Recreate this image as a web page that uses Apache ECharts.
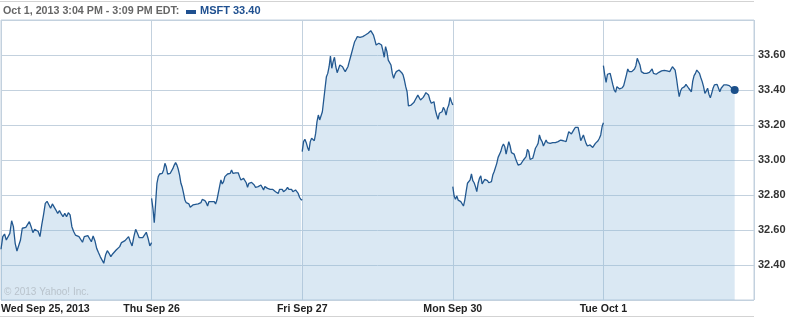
<!DOCTYPE html>
<html>
<head>
<meta charset="utf-8">
<script src="https://cdn.jsdelivr.net/npm/echarts@6/dist/echarts.min.js"></script>
<style>
html,body{margin:0;padding:0;background:#fff;}
#chart{width:791px;height:318px;}
</style>
</head>
<body>
<div id="chart"></div>
<script>
// ---- data (MSFT intraday, ~5-minute samples) ----
const dayLabels = ['Wed Sep 25, 2013', 'Thu Sep 26', 'Fri Sep 27', 'Mon Sep 30', 'Tue Oct 1'];
const yTicks = [32.40, 32.60, 32.80, 33.00, 33.20, 33.40, 33.60];
const ticker = 'MSFT';
const headerText = 'Oct 1, 2013 3:04 PM - 3:09 PM EDT:';
const minutesPerDay = 390;
const lastDayMinutes = 340;

const sep25 = [32.49,32.562,32.577,32.543,32.547,32.581,32.653,32.619,32.524,32.480,32.486,32.543,32.610,32.619,32.615,32.625,32.648,32.619,32.585,32.604,32.606,32.591,32.562,32.629,32.686,32.752,32.764,32.756,32.724,32.749,32.743,32.714,32.695,32.711,32.692,32.676,32.695,32.676,32.699,32.686,32.619,32.591,32.571,32.571,32.562,32.558,32.530,32.562,32.568,32.568,32.562,32.533,32.566,32.539,32.495,32.471,32.448,32.438,32.410,32.457,32.482,32.467,32.448,32.463,32.471,32.486,32.482,32.505,32.528,32.533,32.539,32.547,32.562,32.533,32.509,32.562,32.604,32.581,32.556,32.556,32.556,32.556,32.587,32.553,32.509,32.528];
const sep26 = [32.781,32.724,32.642,32.752,32.867,32.905,32.920,32.914,32.924,32.943,32.981,32.962,32.920,32.927,32.924,32.927,32.952,32.971,32.985,32.971,32.947,32.914,32.867,32.844,32.809,32.771,32.756,32.762,32.749,32.730,32.737,32.743,32.749,32.747,32.752,32.749,32.749,32.756,32.775,32.775,32.768,32.756,32.737,32.762,32.768,32.762,32.768,32.762,32.749,32.771,32.809,32.848,32.886,32.863,32.876,32.905,32.914,32.920,32.914,32.924,32.943,32.924,32.914,32.927,32.920,32.927,32.905,32.886,32.890,32.895,32.886,32.870,32.844,32.867,32.876,32.872,32.867,32.857,32.844,32.851,32.848,32.851,32.857,32.844,32.829,32.848,32.851,32.838,32.829,32.832,32.825,32.832,32.829,32.819,32.829,32.809,32.832,32.838,32.832,32.819,32.829,32.832,32.844,32.832,32.825,32.832,32.819,32.825,32.829,32.819,32.809,32.787,32.775,32.771];
const sep27 = [33.048,33.105,33.118,33.099,33.072,33.053,33.105,33.124,33.133,33.110,33.152,33.219,33.257,33.229,33.238,33.276,33.343,33.410,33.476,33.495,33.533,33.594,33.524,33.562,33.587,33.533,33.499,33.505,33.543,33.552,33.533,33.518,33.505,33.514,33.533,33.562,33.590,33.600,33.648,33.676,33.690,33.705,33.709,33.701,33.701,33.705,33.714,33.714,33.724,33.724,33.733,33.739,33.733,33.714,33.686,33.657,33.663,33.667,33.663,33.657,33.625,33.587,33.648,33.619,33.571,33.562,33.543,33.495,33.467,33.491,33.505,33.499,33.514,33.505,33.499,33.486,33.457,33.419,33.390,33.309,33.301,33.314,33.309,33.328,33.343,33.352,33.371,33.362,33.343,33.347,33.358,33.371,33.385,33.396,33.371,33.343,33.324,33.314,33.333,33.286,33.257,33.232,33.267,33.276,33.276,33.301,33.286,33.257,33.295,33.314,33.358,33.333,33.314];
const sep30 = [32.848,32.794,32.775,32.794,32.771,32.775,32.762,32.752,32.737,32.771,32.819,32.867,32.863,32.886,32.920,32.882,32.870,32.848,32.819,32.867,32.895,32.909,32.863,32.876,32.889,32.889,32.882,32.870,32.863,32.876,32.914,32.933,32.943,32.981,33.015,33.019,33.048,33.076,33.091,33.076,33.034,33.038,33.105,33.080,33.042,33.048,33.034,33.010,32.990,32.971,32.962,32.977,32.985,33.000,32.996,33.019,33.061,33.048,33.004,33.000,33.010,33.038,33.067,33.080,33.095,33.143,33.118,33.105,33.080,33.091,33.114,33.099,33.099,33.095,33.099,33.099,33.095,33.099,33.099,33.105,33.099,33.114,33.124,33.110,33.099,33.105,33.095,33.162,33.156,33.149,33.143,33.175,33.187,33.190,33.187,33.152,33.110,33.099,33.143,33.118,33.095,33.080,33.091,33.086,33.080,33.072,33.080,33.095,33.099,33.110,33.124,33.143,33.190,33.213];
const oct1 = [33.539,33.486,33.444,33.490,33.501,33.495,33.486,33.429,33.400,33.387,33.419,33.410,33.406,33.410,33.413,33.425,33.432,33.486,33.520,33.505,33.509,33.505,33.509,33.520,33.539,33.581,33.571,33.543,33.505,33.495,33.495,33.490,33.495,33.490,33.501,33.509,33.520,33.495,33.505,33.490,33.486,33.501,33.505,33.509,33.509,33.512,33.512,33.509,33.509,33.505,33.501,33.533,33.539,33.514,33.467,33.410,33.362,33.394,33.410,33.406,33.419,33.432,33.425,33.410,33.419,33.390,33.451,33.482,33.495,33.514,33.509,33.495,33.470,33.448,33.419,33.381,33.394,33.410,33.375,33.356,33.381,33.410,33.429,33.432,33.432,33.429,33.390,33.410,33.419,33.429,33.429,33.429,33.425,33.425,33.419,33.410,33.405,33.40];
const days = [sep25, sep26, sep27, sep30, oct1];

// ---- build series data: each day spread over its trading session, null between days ----
const lineData = [];
days.forEach((vals, d) => {
  const span = d === days.length - 1 ? lastDayMinutes : minutesPerDay;
  vals.forEach((v, i) => {
    lineData.push([d * minutesPerDay + i * span / (vals.length - 1), v]);
  });
  if (d < days.length - 1) lineData.push([d * minutesPerDay + span + 0.5, null]);
});
const lastPoint = lineData[lineData.length - 1];

const chart = echarts.init(document.getElementById('chart'), null, {renderer: 'canvas'});
const font = '"Liberation Sans", Arial, sans-serif';
chart.setOption({
  animation: false,
  backgroundColor: '#ffffff',
  grid: {left: 1, top: 20, right: 37, bottom: 18, show: true, borderColor: '#c3d1de', borderWidth: 1, containLabel: false, outerBoundsMode: 'none'},
  xAxis: {
    type: 'value', min: 0, max: minutesPerDay * dayLabels.length, interval: minutesPerDay,
    axisLine: {show: false}, axisTick: {show: false},
    splitLine: {show: true, lineStyle: {color: '#c3d1de', width: 1}},
    axisLabel: {
      margin: 4, color: '#222', fontWeight: 'bold', fontSize: 10.6, fontFamily: font,
      alignMinLabel: 'left', showMaxLabel: false,
      formatter: v => dayLabels[Math.round(v / minutesPerDay)] || ''
    }
  },
  yAxis: {
    type: 'value', position: 'right', min: 32.2, max: 33.8, interval: 0.2,
    axisLine: {show: false}, axisTick: {show: false},
    splitLine: {show: true, lineStyle: {color: '#c3d1de', width: 1}},
    axisLabel: {
      margin: 4, color: '#333', fontWeight: 'bold', fontSize: 11, fontFamily: font,
      showMinLabel: false, showMaxLabel: false,
      formatter: v => (yTicks.some(t => Math.abs(t - v) < 1e-6) ? v.toFixed(2) : '')
    }
  },
  series: [
    {
      type: 'line', data: lineData, connectNulls: false, showSymbol: false, symbol: 'none',
      lineStyle: {color: '#225890', width: 1.3},
      areaStyle: {color: 'rgba(140,182,218,0.46)', origin: 'start'},
      z: 3
    },
    {
      type: 'scatter', data: [lastPoint], symbolSize: 8,
      itemStyle: {color: '#1b4f8a', opacity: 1}, z: 5
    }
  ],
  graphic: [
    {type: 'line', shape: {x1: 0, y1: 1.5, x2: 754, y2: 1.5}, style: {stroke: '#d3d3d3', lineWidth: 1}},
    {type: 'line', shape: {x1: 0, y1: 316.5, x2: 754, y2: 316.5}, style: {stroke: '#d3d3d3', lineWidth: 1}},
    {type: 'text', x: 3, y: 11, style: {text: headerText, font: 'bold 10.7px ' + font, fill: '#666', verticalAlign: 'middle'}},
    {type: 'rect', shape: {x: 186, y: 10, width: 10, height: 4}, style: {fill: '#1f5090'}},
    {type: 'text', x: 200, y: 11, style: {text: ticker + ' ' + lastPoint[1].toFixed(2), font: 'bold 11px ' + font, fill: '#1f5090', verticalAlign: 'middle'}},
    {type: 'text', x: 4, y: 292, z: 10, style: {text: '\u00a9 2013 Yahoo! Inc.', font: '10px ' + font, fill: '#b9c3cc', verticalAlign: 'middle'}}
  ]
});
</script>
</body>
</html>
